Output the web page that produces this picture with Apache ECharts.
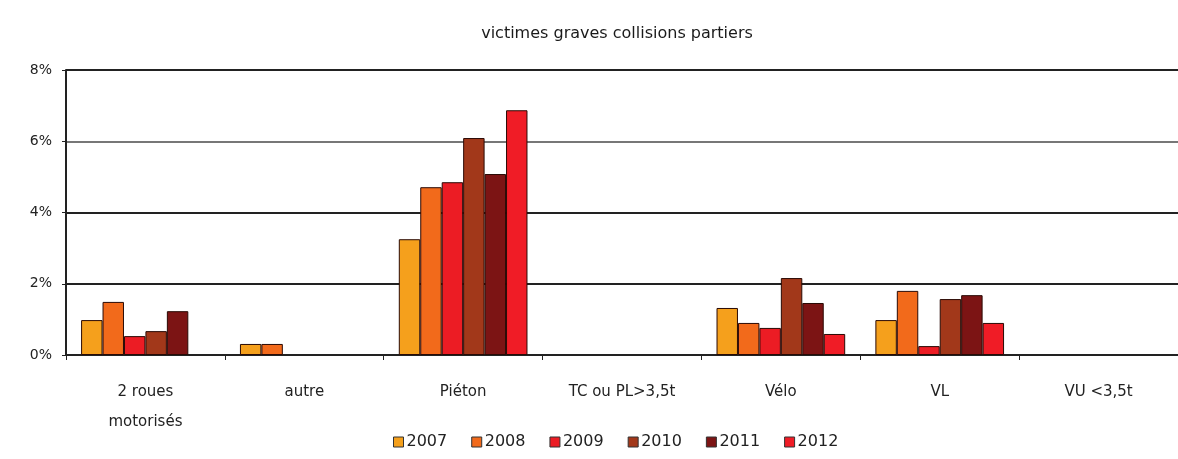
<!DOCTYPE html>
<html><head><meta charset="utf-8">
<script src="https://cdn.jsdelivr.net/npm/echarts@6/dist/echarts.min.js"></script>
<style>html,body{margin:0;padding:0;background:#fff}#c{width:1178px;height:459px}</style>
</head><body><div id="c"></div>
<script>
const categories = ['2 roues\nmotorisés', 'autre', 'Piéton', 'TC ou PL>3,5t', 'Vélo', 'VL', 'VU <3,5t'];
const years = ['2007', '2008', '2009', '2010', '2011', '2012'];
const s2007 = [0.98, 0.31, 3.25, null, 1.32, 0.98, null];
const s2008 = [1.49, 0.31, 4.71, null, 0.90, 1.80, null];
const s2009 = [0.53, null, 4.85, null, 0.76, 0.25, null];
const s2010 = [0.67, null, 6.09, null, 2.16, 1.57, null];
const s2011 = [1.23, null, 5.08, null, 1.46, 1.68, null];
const s2012 = [null, null, 6.87, null, 0.59, 0.90, null];
const yTicks = [0, 2, 4, 6, 8];
const colors = ['#F5A01C', '#F26A1B', '#EC1C24', '#A2381A', '#7C1414', '#F01C26'];
const seriesData = [s2007, s2008, s2009, s2010, s2011, s2012];
const FONT = 'DejaVu Sans, Liberation Sans, sans-serif';

const chart = echarts.init(document.getElementById('c'));
chart.setOption({
  animation: false,
  textStyle: {fontFamily: FONT},
  title: {text: 'victimes graves collisions partiers', left: 612, top: 21, textAlign: 'center',
    textStyle: {fontSize: 16, fontWeight: 'normal', color: '#1a1a1a', fontFamily: FONT}},
  legend: {bottom: 4, left: 388, itemWidth: 10, itemHeight: 10, itemGap: 24,
    textStyle: {fontSize: 16, color: '#222', padding: [0, 0, 0, -2], fontFamily: FONT},
    data: years.map((y, i) => ({name: y, icon: 'rect', itemStyle: {borderColor: '#333', borderWidth: 1}}))},
  grid: {left: 66, right: -8, top: 70, bottom: 104, containLabel: false},
  xAxis: {type: 'category', data: categories,
    axisLine: {lineStyle: {color: '#222', width: 2}},
    axisTick: {show: true, length: 5, lineStyle: {color: '#222'}},
    axisLabel: {fontSize: 15, color: '#222', margin: 22, lineHeight: 30, fontFamily: FONT}},
  yAxis: {type: 'value', min: 0, max: 8, interval: 2,
    axisLine: {show: true, lineStyle: {color: '#222', width: 2}},
    axisTick: {show: true, length: 4, lineStyle: {color: '#222'}},
    splitLine: {lineStyle: {color: ['#222', '#222', '#222', '#777', '#222'], width: 2}},
    axisLabel: {fontSize: 14, color: '#222', margin: 14, fontFamily: FONT,
      formatter: v => yTicks.includes(v) ? v + '%' : ''}},
  series: years.map((y, i) => ({
    name: y, type: 'bar', data: seriesData[i], barGap: '0%', barCategoryGap: '19%',
    itemStyle: {color: colors[i], borderColor: '#2a0a05', borderWidth: 1}
  }))
});
</script></body></html>
